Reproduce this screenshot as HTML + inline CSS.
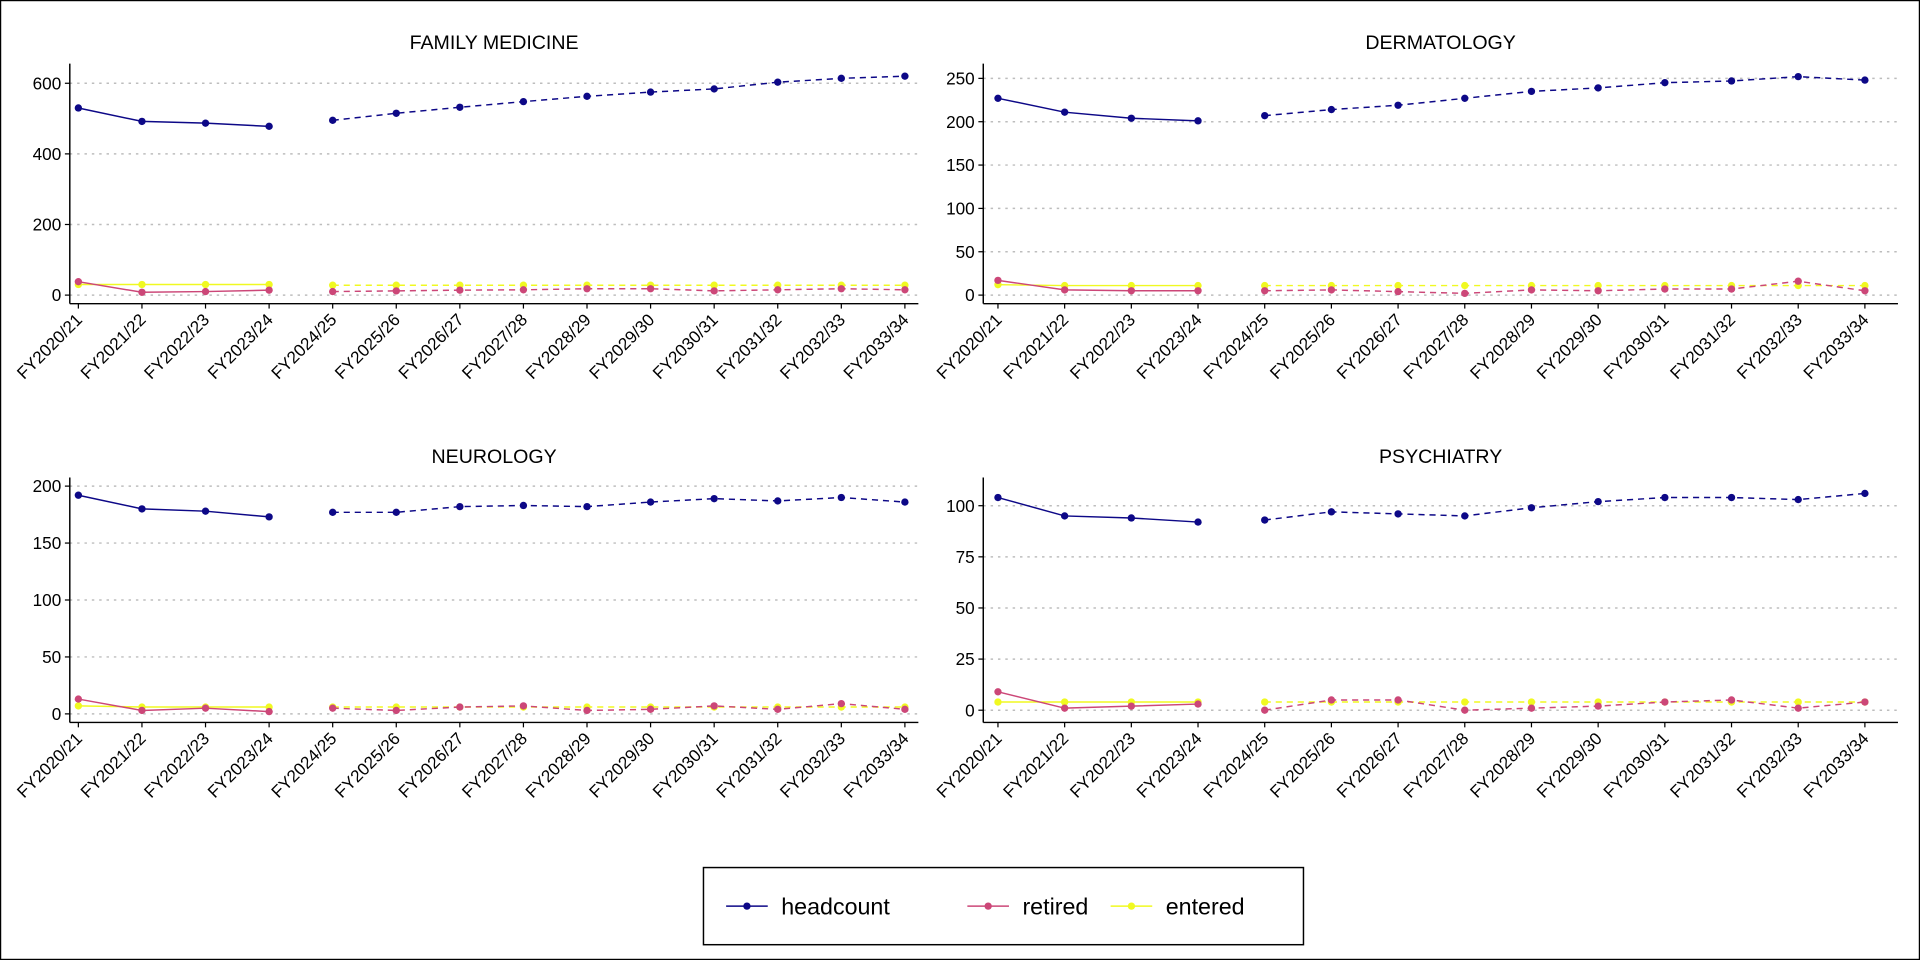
<!DOCTYPE html>
<html><head><meta charset="utf-8"><style>
html,body{margin:0;padding:0;background:#fff;}
svg{display:block;font-family:"Liberation Sans",Arial,sans-serif;}
</style></head><body>
<svg id="chart" width="1920" height="960" viewBox="0 0 1568 784" xmlns="http://www.w3.org/2000/svg">
<rect x="0.5" y="0.5" width="1567" height="783" fill="#fff" stroke="#000" stroke-width="1"/>
<g id="panels"></g>
<g>
<rect x="574.5" y="708.5" width="490" height="63" fill="#fff" stroke="#000" stroke-width="1.2"/>
<g><line x1="593" y1="740" x2="627" y2="740" stroke="#0d0887" stroke-width="1.2"/><circle cx="610" cy="740" r="3" fill="#0d0887"/><text x="638" y="747" font-size="19">headcount</text></g>
<g><line x1="790" y1="740" x2="824" y2="740" stroke="#cc4778" stroke-width="1.2"/><circle cx="807" cy="740" r="3" fill="#cc4778"/><text x="835" y="747" font-size="19">retired</text></g>
<g><line x1="907" y1="740" x2="941" y2="740" stroke="#f0f921" stroke-width="1.2"/><circle cx="924" cy="740" r="3" fill="#f0f921"/><text x="952" y="747" font-size="19">entered</text></g>
</g>
</svg>
<script>
const categories = ["FY2020/21","FY2021/22","FY2022/23","FY2023/24","FY2024/25","FY2025/26","FY2026/27","FY2027/28","FY2028/29","FY2029/30","FY2030/31","FY2031/32","FY2032/33","FY2033/34"];
const panelTitles = ["FAMILY MEDICINE","DERMATOLOGY","NEUROLOGY","PSYCHIATRY"];
const fmHeadcount = [530,492,487,478,495,515,532,548,563,575,584,603,614,620];
const fmRetired = [38,8,10,14,10,12,14,15,18,18,12,15,18,15];
const fmEntered = [30,30,30,30,28,28,28,28,28,28,28,28,28,28];
const dermHeadcount = [227,211,204,201,207,214,219,227,235,239,245,247,252,248];
const dermRetired = [17,6,5,5,5,6,4,2,6,5,7,7,16,5];
const dermEntered = [12,11,11,11,11,11,11,11,11,11,11,11,11,11];
const neuroHeadcount = [192,180,178,173,177,177,182,183,182,186,189,187,190,186];
const neuroRetired = [13,3,5,2,5,3,6,7,3,4,7,4,9,4];
const neuroEntered = [7,6,6,6,6,6,6,6,6,6,6,6,6,6];
const psychHeadcount = [104,95,94,92,93,97,96,95,99,102,104,104,103,106];
const psychRetired = [9,1,2,3,0,5,5,0,1,2,4,5,1,4];
const psychEntered = [4,4,4,4,4,4,4,4,4,4,4,4,4,4];
const fmTicks = [0,200,400,600];
const dermTicks = [0,50,100,150,200,250];
const neuroTicks = [0,50,100,150,200];
const psychTicks = [0,25,50,75,100];

const NS="http://www.w3.org/2000/svg";
const root=document.getElementById('panels');
function mk(tag,attrs,parent){const e=document.createElementNS(NS,tag);for(const k in attrs)e.setAttribute(k,attrs[k]);parent.appendChild(e);return e;}
const colors={headcount:"#0d0887",retired:"#cc4778",entered:"#f0f921"};
const panels=[
 {title:panelTitles[0],ax:57,right:750,x0:64,x1:739,top:52,bottom:248,y0:241,yv:600,yp:68,ticks:fmTicks,s:{headcount:fmHeadcount,retired:fmRetired,entered:fmEntered}},
 {title:panelTitles[1],ax:803,right:1550,x0:815,x1:1523,top:52,bottom:248,y0:241,yv:250,yp:64,ticks:dermTicks,s:{headcount:dermHeadcount,retired:dermRetired,entered:dermEntered}},
 {title:panelTitles[2],ax:57,right:750,x0:64,x1:739,top:390,bottom:590,y0:583,yv:200,yp:397,ticks:neuroTicks,s:{headcount:neuroHeadcount,retired:neuroRetired,entered:neuroEntered}},
 {title:panelTitles[3],ax:803,right:1550,x0:815,x1:1523,top:390,bottom:590,y0:580,yv:100,yp:413,ticks:psychTicks,s:{headcount:psychHeadcount,retired:psychRetired,entered:psychEntered}}
];
panels.forEach((p,pi)=>{
 const g=mk('g',{},root);
 
 
 const xs=i=>p.x0+(p.x1-p.x0)*i/(categories.length-1);
 const ys=v=>p.y0-(p.y0-p.yp)*v/p.yv;
 const t=mk('text',{x:(p.ax+p.right)/2,y:p.top-12,'text-anchor':'middle','font-size':16},g);t.textContent=p.title;
 
 
 p.ticks.forEach(v=>{
  const y=ys(v);
  const gl=mk('line',{x1:p.ax,x2:p.right,y1:y,y2:y,stroke:'#bdbdbd','stroke-width':1.2,'stroke-dasharray':'2,4'},g);
  
  
  mk('line',{x1:p.ax-4,x2:p.ax,y1:y,y2:y,stroke:'#000','stroke-width':1},g);
  const tl=mk('text',{x:p.ax-7,y:y+5,'text-anchor':'end','font-size':14},g);tl.textContent=v;
  
  
 });
 const ya=mk('line',{x1:p.ax,x2:p.ax,y1:p.top,y2:p.bottom,stroke:'#000','stroke-width':1.2},g);
 
 
 const xa=mk('line',{x1:p.ax,x2:p.right,y1:p.bottom,y2:p.bottom,stroke:'#000','stroke-width':1.2},g);
 
 
 categories.forEach((c,i)=>{
  const x=xs(i);
  mk('line',{x1:x,x2:x,y1:p.bottom,y2:p.bottom+4,stroke:'#000'},g);
  const tl=mk('text',{x:x+4,y:p.bottom+14,'text-anchor':'end','font-size':14,transform:`rotate(-45 ${x+4} ${p.bottom+14})`},g);tl.textContent=c;
  
  
 });
 ['entered','retired','headcount'].forEach(k=>{
  const vals=p.s[k];
  const sg=mk('g',{},g);
  
  
  const pts=vals.map((v,i)=>xs(i)+','+ys(v));
  mk('polyline',{points:pts.slice(0,4).join(' '),fill:'none',stroke:colors[k],'stroke-width':1.2},sg);
  mk('polyline',{points:pts.slice(4).join(' '),fill:'none',stroke:colors[k],'stroke-width':1.2,'stroke-dasharray':'5,4'},sg);
  vals.forEach((v,i)=>{
   const c=mk('circle',{cx:xs(i),cy:ys(v),r:3,fill:colors[k]},sg);
   
   
  });
 });
});
</script>
</body></html>
